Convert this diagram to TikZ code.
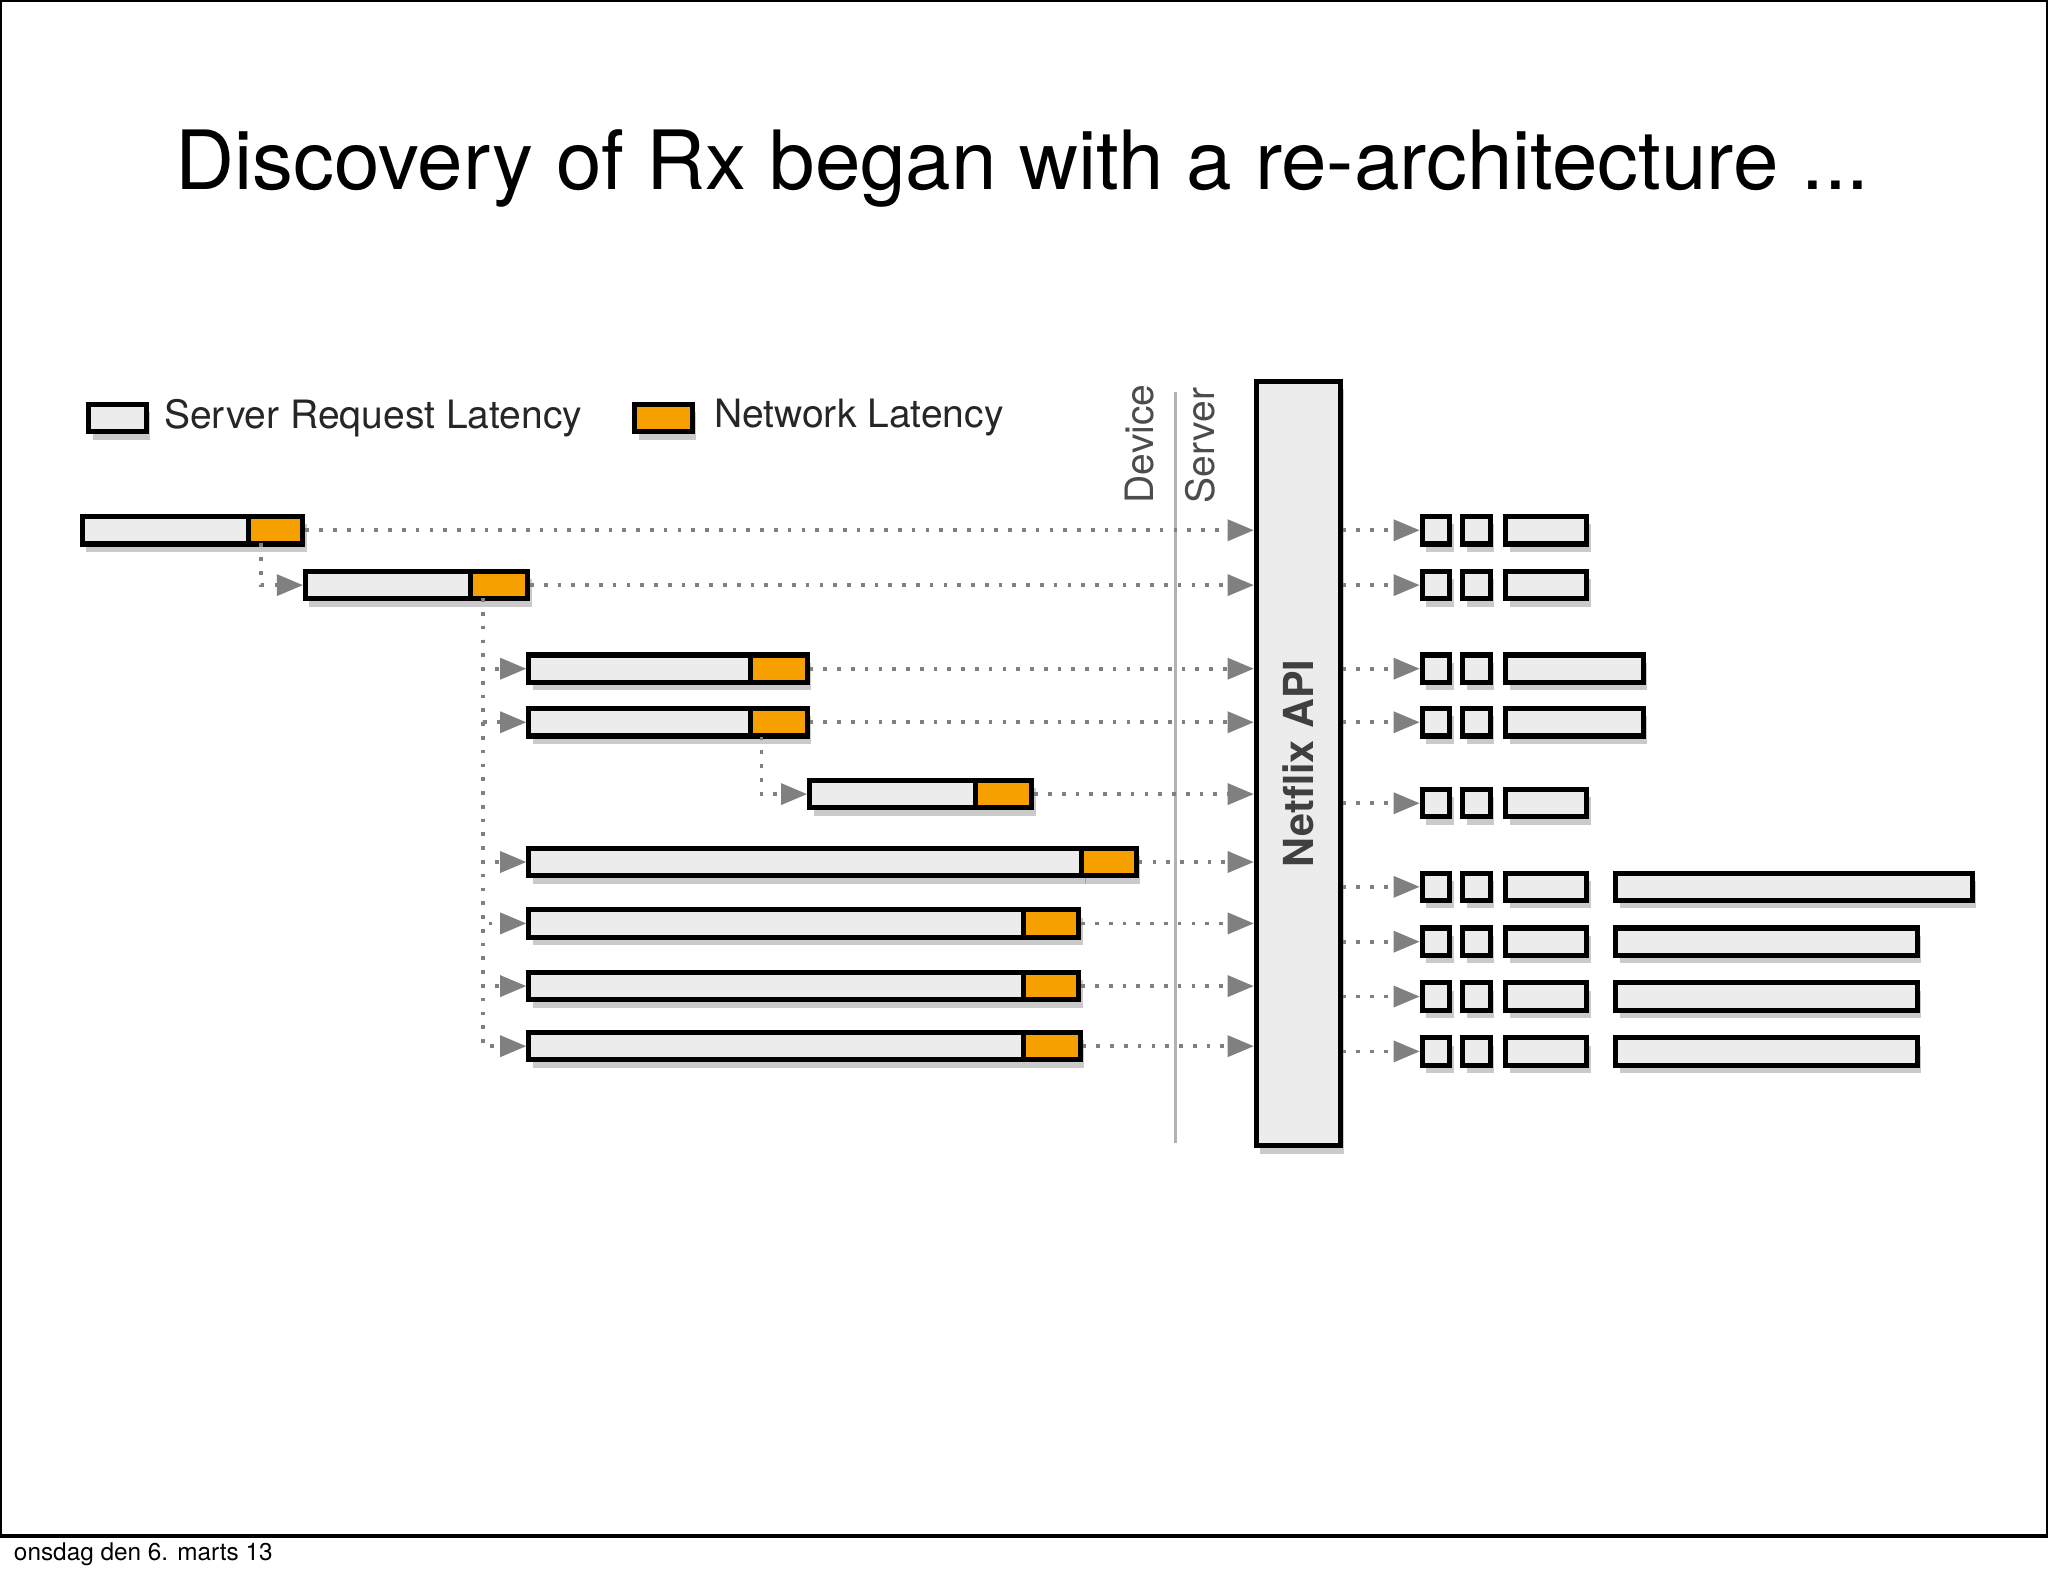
\documentclass[tikz,border=0pt]{standalone}
\usepackage{fontspec}
\setmainfont{TeX Gyre Heros}
\usetikzlibrary{arrows.meta,shadows,calc}
\definecolor{barfill}{RGB}{236,236,236}
\definecolor{netorange}{RGB}{246,160,0}
\begin{document}
\begin{tikzpicture}[x=0.01cm,y=-0.01cm,
  box/.style={draw=black,line width=1.1pt,inner sep=0pt,minimum height=0.21cm,anchor=west,
    drop shadow={shadow xshift=0.03cm,shadow yshift=-0.06cm,opacity=0.35,fill=black!60}},
  srv/.style={box,fill=barfill},
  net/.style={box,fill=netorange},
  conn/.style={dash pattern=on 0.8pt off 2.2pt,gray,line width=0.8pt,-{Triangle[length=0.2cm,width=0.16cm,fill=gray]}},
  lbl/.style={font=\fontsize{8.5}{10}\selectfont,text=black!85,inner sep=0pt}]
\useasboundingbox (0,0) rectangle (1568,1207);
\draw[line width=0.8pt] (0,0) rectangle (1568,1176);
\node[font=\fontsize{17.8}{22}\selectfont,anchor=base] (title) at (783,145) {Discovery of Rx began with a re-architecture ...};
\node[anchor=west,font=\fontsize{5.3}{6}\selectfont,inner sep=0pt] (foot) at (10,1190) {onsdag den 6. marts 13};

% legend
\node[srv,minimum width=0.44cm] (lgs) at (66,320) {};
\node[lbl,anchor=west] (lgst) at (125,320) {Server Request Latency};
\node[net,minimum width=0.44cm] (lgn) at (484,320) {};
\node[lbl,anchor=west] (lgnt) at (546,320) {Network Latency};
\node[lbl,rotate=90,anchor=south west,text=black!70] (dev) at (884,386) {Device};
\node[lbl,rotate=90,anchor=south west,text=black!70] (srvl) at (931,386) {Server};
\draw[gray!60,line width=0.8pt] (900,300) coordinate (sl1) -- (900,875) coordinate (sl2);

% Netflix API
\node[draw,line width=1.1pt,fill=barfill,minimum width=0.64cm,minimum height=5.85cm,anchor=north west,inner sep=0pt,
  drop shadow={shadow xshift=0.03cm,shadow yshift=-0.06cm,opacity=0.35,fill=black!60}] (api) at (960,290) {};
\node[rotate=90,font=\bfseries\fontsize{9}{10}\selectfont,text=black!75] (apit) at (api.center) {Netflix API};

% bars: name/x0/xsplit/x1/y
\foreach \n/\a/\s/\b/\y in {1/61/188/230/406,2/232/358/402/448,3/403/573/616/512,4/403/573/616/553,
  5/618/745/788/608,6/403/826/868/660,7/403/782/824/707,8/403/782/824/755,9/403/782/825/801}{
  \pgfmathsetmacro\wa{(\s-\a)/100}
  \pgfmathsetmacro\wb{(\b-\s)/100}
  \node[srv,minimum width=\wa cm] (s\n) at (\a,\y) {};
  \node[net,minimum width=\wb cm] (o\n) at (\s,\y) {};
  \draw[conn] (o\n.east) -- (o\n.east -| api.west);
}

% dependency connectors
\coordinate (d1) at (200,416);
\draw[conn] (d1) |- (s2.west);
\coordinate (d2) at (370,458);
\foreach \n in {3,4,6,7,8,9}{\draw[conn] (d2) |- (s\n.west);}
\coordinate (d4) at (583,564);
\draw[conn] (d4) |- (s5.west);

% right side: name/y/third box end/long bar end
\foreach \n/\y/\c/\e in {1/406/1213/0,2/448/1213/0,3/512/1256/0,4/553/1256/0,5/615/1213/0,
  6/679/1213/1508,7/721/1213/1466,8/763/1213/1466,9/805/1213/1466}{
  \node[srv,minimum width=0.21cm] (qa\n) at (1087,\y) {};
  \node[srv,minimum width=0.21cm] (qb\n) at (1118,\y) {};
  \pgfmathsetmacro\wc{(\c-1151)/100}
  \node[srv,minimum width=\wc cm] (qc\n) at (1151,\y) {};
  \ifnum\e>0
    \pgfmathsetmacro\wlong{(\e-1235)/100}
    \node[srv,minimum width=\wlong cm] (qd\n) at (1235,\y) {};
  \fi
  \draw[conn] (api.east |- qa\n.west) -- (qa\n.west);
}
\end{tikzpicture}
\end{document}
